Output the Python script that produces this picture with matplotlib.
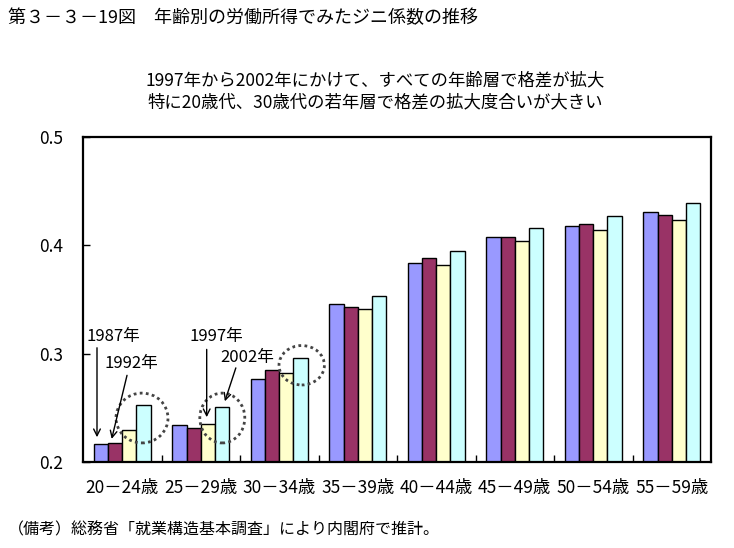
import matplotlib
matplotlib.use("Agg")
import matplotlib.pyplot as plt
from matplotlib.patches import Ellipse
import numpy as np

plt.rcParams['font.family'] = ['Noto Sans CJK JP', 'DejaVu Sans']

categories = ["20－24歳", "25－29歳", "30－34歳", "35－39歳", "40－44歳", "45－49歳", "50－54歳", "55－59歳"]
years = ["1987年", "1992年", "1997年", "2002年"]
gini_1987 = [0.217, 0.234, 0.277, 0.346, 0.384, 0.408, 0.418, 0.431]
gini_1992 = [0.218, 0.231, 0.285, 0.343, 0.388, 0.408, 0.420, 0.428]
gini_1997 = [0.230, 0.235, 0.282, 0.341, 0.382, 0.404, 0.414, 0.423]
gini_2002 = [0.253, 0.251, 0.296, 0.353, 0.395, 0.416, 0.427, 0.439]
series = [gini_1987, gini_1992, gini_1997, gini_2002]
colors = ["#9999FF", "#993366", "#FFFFCC", "#CCFFFF"]
yticks = [0.2, 0.3, 0.4, 0.5]

fig = plt.figure(figsize=(7.34, 5.48), dpi=100)
ax = fig.add_axes([83/734, 1-462/548, (711-83)/734, (462-137)/548])

x = np.arange(len(categories))
w = 0.18
for i, (vals, c) in enumerate(zip(series, colors)):
    ax.bar(x + (i - 1.5) * w, vals, width=w, color=c, edgecolor="black", linewidth=1.0, zorder=2)

ax.set_xlim(-0.5, len(categories) - 0.5)
ax.set_ylim(0.2, 0.5)
ax.set_yticks(yticks)
ax.set_yticklabels([f"{v:.1f}" for v in yticks], fontsize=12.5)
ax.set_xticks(x)
ax.set_xticklabels(categories, fontsize=12.5)
ax.set_xticks(np.arange(0.5, len(categories) - 0.5, 1), minor=True)
ax.tick_params(axis='x', which='major', length=0, pad=12)
ax.tick_params(axis='x', which='minor', direction='in', length=5, width=1)
ax.tick_params(axis='y', direction='in', length=5, width=1, pad=14)
for s in ax.spines.values():
    s.set_linewidth(1.6)

# annotations
def arrow(start, tip):
    ax.annotate("", xy=tip, xytext=start,
                arrowprops=dict(arrowstyle="->", color="black", lw=1.0, mutation_scale=12), zorder=5)

ax.text(-0.118, 0.3154, years[0], ha='center', va='center', fontsize=12)
arrow((-0.3217, 0.308), (-0.3217, 0.2203))
ax.text(0.118, 0.291, years[1], ha='center', va='center', fontsize=12)
arrow((0.069, 0.2825), (-0.143, 0.2188))
ax.text(1.2006, 0.3154, years[2], ha='center', va='center', fontsize=12)
arrow((1.0757, 0.3065), (1.0757, 0.2388))
ax.text(1.598, 0.2967, years[3], ha='center', va='center', fontsize=12)
arrow((1.458, 0.2893), (1.296, 0.2536))

for (cx, cy, ew, eh) in [(0.2516, 0.2406, 0.662, 0.046), (1.2745, 0.2406, 0.573, 0.046), (2.286, 0.2893, 0.578, 0.0364)]:
    ax.add_patch(Ellipse((cx, cy), ew, eh, fill=False, edgecolor="#444444", linestyle=(0, (1, 1.2)), linewidth=2.0, zorder=4))

fig.text(8/734, 1-18/548, "第３－３－19図　年齢別の労働所得でみたジニ係数の推移", ha='left', va='center', fontsize=13)
fig.text(375/734, 1-80/548, "1997年から2002年にかけて、すべての年齢層で格差が拡大", ha='center', va='center', fontsize=12.5)
fig.text(375/734, 1-102/548, "特に20歳代、30歳代の若年層で格差の拡大度合いが大きい", ha='center', va='center', fontsize=12.5)
fig.text(8/734, 1-530/548, "（備考）総務省「就業構造基本調査」により内閣府で推計。", ha='left', va='center', fontsize=11.5)

fig.savefig("out.png", dpi=100)
